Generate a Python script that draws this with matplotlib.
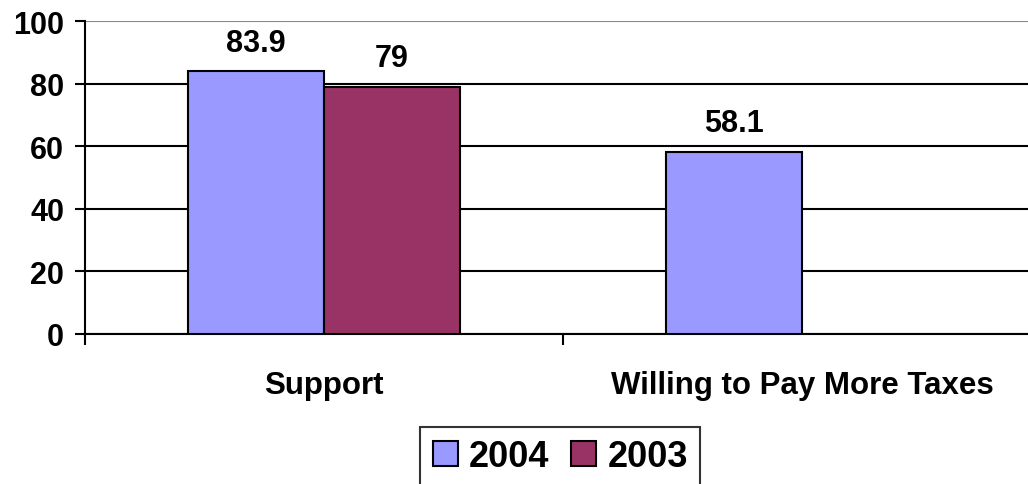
import numpy as np
import matplotlib.pyplot as plt

plt.rcParams['font.family'] = ['Liberation Sans', 'DejaVu Sans']
plt.rcParams['font.weight'] = 'bold'

categories = ['Support', 'Willing to Pay More Taxes']
values_2004 = [83.9, 58.1]
values_2003 = [79, np.nan]
labels_2004 = ['83.9', '58.1']
labels_2003 = ['79', '']
y_ticks = [0, 20, 40, 60, 80, 100]

color_2004 = '#9999FF'
color_2003 = '#993366'
bar_width = 0.285

fig = plt.figure(figsize=(10.28, 4.85), dpi=100)
ax = fig.add_axes([85 / 1028, 1 - 335 / 485, (1041 - 85) / 1028, (335 - 22) / 485])

x = np.arange(len(categories))
bars_2004 = ax.bar(x - bar_width / 2, values_2004, bar_width, color=color_2004,
                   edgecolor='black', linewidth=1.5, label='2004', zorder=3)
bars_2003 = ax.bar(x + bar_width / 2, values_2003, bar_width, color=color_2003,
                   edgecolor='black', linewidth=1.5, label='2003', zorder=3)

ax.bar_label(bars_2004, labels=labels_2004, padding=10, fontsize=22, fontweight='bold')
ax.bar_label(bars_2003, labels=labels_2003, padding=10, fontsize=22, fontweight='bold')

ax.set_xlim(-0.5, 1.5)
ax.set_ylim(0, 100)
ax.set_yticks(y_ticks)
ax.set_yticklabels([str(t) for t in y_ticks], fontsize=22, fontweight='bold')
ax.tick_params(axis='y', length=7, width=1.5, pad=8)

ax.set_xticks(x)
ax.set_xticklabels(categories, fontsize=22.5, fontweight='bold')
ax.tick_params(axis='x', which='major', length=0, pad=26)
ax.set_xticks([-0.5, 0.5, 1.5], minor=True)
ax.tick_params(axis='x', which='minor', length=8, width=1.5)

ax.grid(axis='y', color='black', linewidth=1.5, zorder=0)
ax.get_ygridlines()[-1].set_color('#888888')
ax.set_axisbelow(True)

for side in ['top', 'right']:
    ax.spines[side].set_visible(False)
for side in ['left', 'bottom']:
    ax.spines[side].set_linewidth(1.5)

leg = fig.legend(loc='upper center', bbox_to_anchor=(0.545, 0.118), ncol=2,
                 prop={'size': 26, 'weight': 'bold'}, frameon=True, fancybox=False,
                 edgecolor='black', handlelength=0.7, handleheight=0.7,
                 handletextpad=0.3, columnspacing=0.6, borderpad=0.35,
                 borderaxespad=0)
leg.get_frame().set_linewidth(1.5)

fig.savefig('out.png', dpi=100)
